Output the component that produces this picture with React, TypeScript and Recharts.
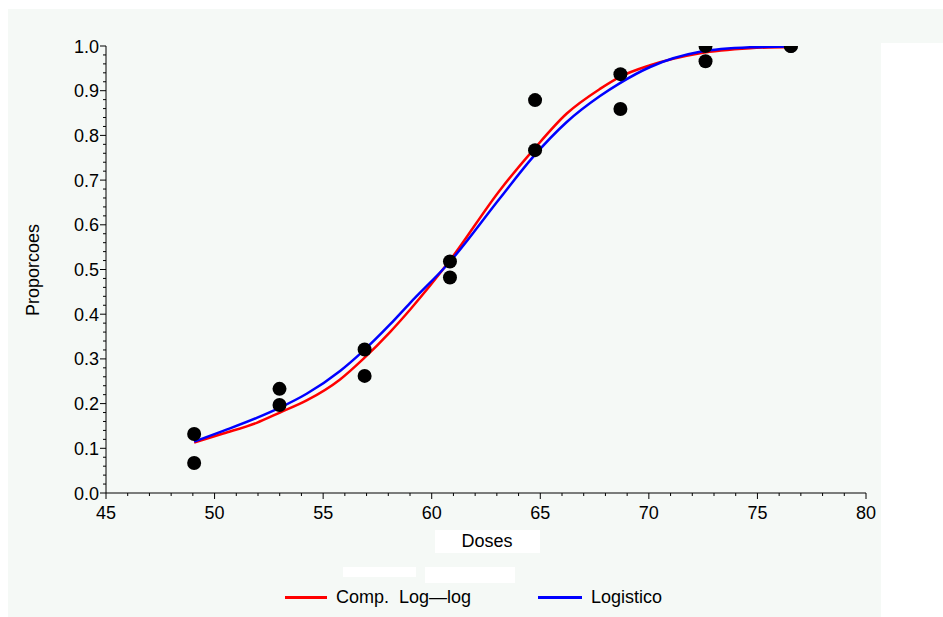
import React from 'react';
import { ComposedChart, Line, Scatter, XAxis, YAxis } from 'recharts';

// Observed proportions (two replicates per dose)
const doses = [49.06, 52.99, 56.91, 60.84, 64.76, 68.69, 72.61, 76.54];
const propRep1 = [0.132, 0.233, 0.321, 0.518, 0.879, 0.937, 1.0, 1.0];
const propRep2 = [0.067, 0.197, 0.262, 0.482, 0.767, 0.859, 0.966, 1.0];

// Fitted curves
const curveDoses = [49.06, 50.4, 51.94, 53.01, 54.24, 55.78, 56.85, 58.08, 59.0, 60.85, 63.15, 64.67, 66.22, 67.75, 68.67, 70.06, 72.36, 74.66, 76.54];
const logistico = [0.115, 0.139, 0.168, 0.191, 0.222, 0.273, 0.318, 0.377, 0.425, 0.518, 0.66, 0.752, 0.83, 0.888, 0.917, 0.953, 0.987, 0.997, 0.999];
const compLogLog = [0.113, 0.133, 0.157, 0.18, 0.207, 0.254, 0.3, 0.36, 0.41, 0.521, 0.678, 0.767, 0.849, 0.904, 0.931, 0.957, 0.984, 0.995, 0.998];

const xMajorTicks = [45, 50, 55, 60, 65, 70, 75, 80];
const yMajorTicks = [0.0, 0.1, 0.2, 0.3, 0.4, 0.5, 0.6, 0.7, 0.8, 0.9, 1.0];

const xTicks: number[] = [];
for (let i = 45; i <= 80; i++) xTicks.push(i);
const yTicks: number[] = [];
for (let i = 0; i <= 50; i++) yTicks.push(i / 50);

const pointsData = [
  ...doses.map((d, i) => ({ x: d, y: propRep1[i] })),
  ...doses.map((d, i) => ({ x: d, y: propRep2[i] })),
];
const logData = curveDoses.map((d, i) => ({ x: d, y: logistico[i] }));
const cllData = curveDoses.map((d, i) => ({ x: d, y: compLogLog[i] }));

const FONT = '"Liberation Sans", Arial, Helvetica, sans-serif';
const FS = 18;

const XTick = (props: any) => {
  const { x, y, payload } = props;
  const v = payload.value;
  const major = xMajorTicks.includes(v);
  return (
    <g>
      <line x1={x} y1={y} x2={x} y2={y + (major ? 6 : 3)} stroke="#000" strokeWidth={1} />
      {major && (
        <text x={x} y={y + 26} textAnchor="middle" fontSize={FS} fontFamily={FONT} fill="#000">
          {v}
        </text>
      )}
    </g>
  );
};

const YTick = (props: any) => {
  const { x, y, payload } = props;
  const v = payload.value;
  const major = yMajorTicks.some((t) => Math.abs(t - v) < 1e-9);
  return (
    <g>
      <line x1={x} y1={y} x2={x - (major ? 6 : 3)} y2={y} stroke="#000" strokeWidth={1} />
      {major && (
        <text x={x - 7} y={y + 6.5} textAnchor="end" fontSize={FS} fontFamily={FONT} fill="#000">
          {v.toFixed(1)}
        </text>
      )}
    </g>
  );
};

const Dot = (p: any) => <circle cx={p.cx} cy={p.cy} r={7} fill="#000" />;

export default function App() {
  const tint = '#f5f9f6';
  return (
    <div style={{ position: 'absolute', left: 0, top: 0, width: 943, height: 617, background: '#fff', overflow: 'hidden', fontFamily: FONT }}>
      <div style={{ position: 'absolute', left: 8, top: 9, width: 935, height: 34, background: tint }} />
      <div style={{ position: 'absolute', left: 8, top: 43, width: 873, height: 574, background: tint }} />
      <div style={{ position: 'absolute', left: 435, top: 530, width: 105, height: 23, background: '#fff' }} />
      <div style={{ position: 'absolute', left: 343, top: 567, width: 73, height: 10, background: '#fff' }} />
      <div style={{ position: 'absolute', left: 425, top: 567, width: 90, height: 16, background: '#fff' }} />
      <div style={{ position: 'absolute', left: 0, top: 0 }}>
        <ComposedChart width={943} height={617} margin={{ top: 46, right: 77, bottom: 94, left: 46 }}>
          <XAxis
            type="number"
            dataKey="x"
            domain={[45, 80]}
            ticks={xTicks}
            interval={0}
            tick={<XTick />}
            tickLine={false}
            tickSize={0}
            tickMargin={0}
            height={30}
            axisLine={{ stroke: '#000', strokeWidth: 1 }}
            allowDataOverflow
          />
          <YAxis
            type="number"
            dataKey="y"
            domain={[0, 1]}
            ticks={yTicks}
            interval={0}
            tick={<YTick />}
            tickLine={false}
            tickSize={0}
            tickMargin={0}
            width={60}
            axisLine={{ stroke: '#000', strokeWidth: 1 }}
            allowDataOverflow
          />
          <Line data={cllData} dataKey="y" type="monotone" stroke="#ff0000" strokeWidth={2.5} dot={false} isAnimationActive={false} />
          <Line data={logData} dataKey="y" type="monotone" stroke="#0000ff" strokeWidth={2.5} dot={false} isAnimationActive={false} />
          <Scatter data={pointsData} dataKey="y" fill="#000" shape={<Dot />} isAnimationActive={false} />
        </ComposedChart>
      </div>
      <div style={{ position: 'absolute', left: 33, top: 270, transform: 'translate(-50%, -50%) rotate(-90deg)', fontSize: FS, whiteSpace: 'nowrap', color: '#000' }}>
        Proporcoes
      </div>
      <div style={{ position: 'absolute', left: 487, top: 541, transform: 'translate(-50%, -50%)', fontSize: FS, color: '#000' }}>
        Doses
      </div>
      <div style={{ position: 'absolute', left: 285, top: 596, width: 42, height: 3, background: '#ff0000' }} />
      <div style={{ position: 'absolute', left: 336, top: 597, transform: 'translateY(-50%)', fontSize: FS, whiteSpace: 'pre', color: '#000' }}>
        {'Comp.  Log\u2014log'}
      </div>
      <div style={{ position: 'absolute', left: 538, top: 596, width: 44, height: 3, background: '#0000ff' }} />
      <div style={{ position: 'absolute', left: 591, top: 597, transform: 'translateY(-50%)', fontSize: FS, color: '#000' }}>
        Logistico
      </div>
    </div>
  );
}
